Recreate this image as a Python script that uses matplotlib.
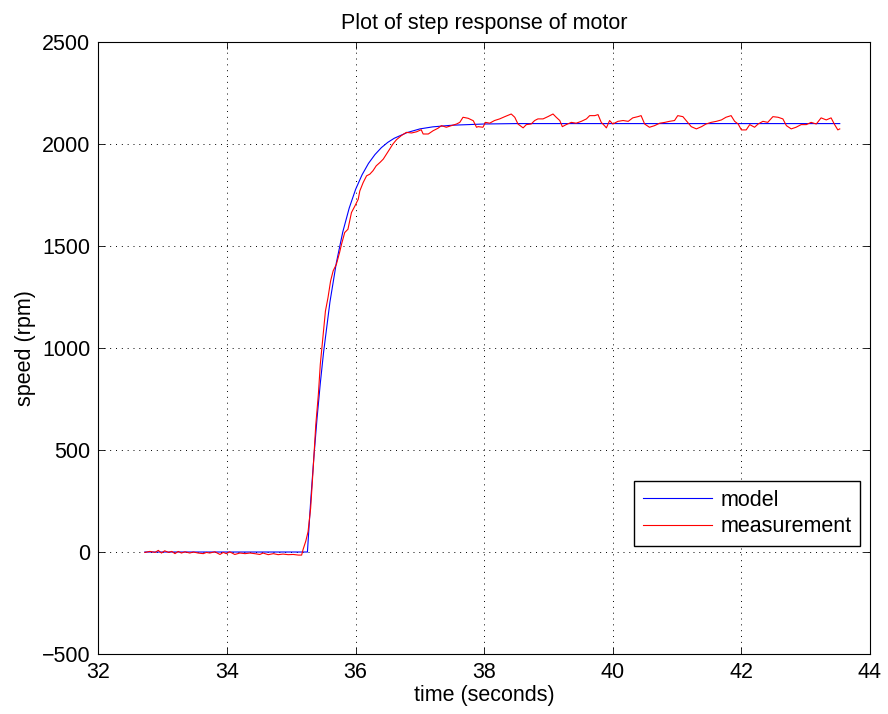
import matplotlib
matplotlib.use("Agg")
import matplotlib.pyplot as plt

plt.rcParams['font.family'] = ['Liberation Sans', 'DejaVu Sans']

# Model (first-order step response)
model_t = [32.72, 35.25, 35.30, 35.35, 35.40, 35.45, 35.50, 35.60, 35.70, 35.80,
           35.90, 36.00, 36.10, 36.20, 36.30, 36.40, 36.50, 36.60, 36.80, 37.00,
           37.20, 37.50, 38.00, 38.50, 43.53]
model_rpm = [0, 0, 247, 464, 657, 826, 976, 1225, 1418, 1569,
             1686, 1778, 1849, 1905, 1948, 1982, 2008, 2028, 2056, 2074,
             2084, 2092, 2098, 2100, 2100]

meas_t = [32.72, 32.80, 32.88, 32.93, 32.98, 33.03, 33.09, 33.14, 33.19, 33.24,
          33.29, 33.345, 33.42, 33.475, 33.55, 33.63, 33.68, 33.73, 33.81, 33.89,
          33.94, 33.99, 34.04, 34.12, 34.20, 34.28, 34.355, 34.43, 34.51, 34.56,
          34.64, 34.72, 34.795, 34.87, 34.95, 35.03, 35.11, 35.16, 35.18, 35.225,
          35.26, 35.30, 35.34, 35.38, 35.42, 35.45, 35.495, 35.53, 35.57, 35.61,
          35.65, 35.70, 35.75, 35.78, 35.83, 35.88, 35.935, 35.99, 36.04, 36.065,
          36.117, 36.17, 36.22, 36.27, 36.32, 36.38, 36.43, 36.48, 36.53, 36.58,
          36.635, 36.71, 36.79, 36.87, 36.95, 37.02, 37.05, 37.13, 37.205, 37.28,
          37.335, 37.41, 37.49, 37.57, 37.62, 37.67, 37.75, 37.83, 37.88, 37.905,
          37.98, 38.02, 38.085, 38.16, 38.24, 38.32, 38.42, 38.475, 38.525, 38.605,
          38.655, 38.73, 38.785, 38.835, 38.915, 38.99, 39.07, 39.12, 39.175, 39.215,
          39.275, 39.355, 39.43, 39.51, 39.59, 39.64, 39.72, 39.77, 39.82, 39.87,
          39.90, 39.95, 40.00, 40.08, 40.16, 40.24, 40.31, 40.39, 40.44, 40.495,
          40.57, 40.65, 40.73, 40.81, 40.88, 40.96, 41.01, 41.09, 41.14, 41.22,
          41.30, 41.38, 41.45, 41.53, 41.61, 41.69, 41.76, 41.84, 41.895, 41.95,
          42.00, 42.075, 42.13, 42.205, 42.26, 42.335, 42.41, 42.49, 42.57, 42.645,
          42.70, 42.775, 42.85, 42.93, 43.01, 43.085, 43.165, 43.24, 43.32, 43.395,
          43.45, 43.50, 43.53]
meas_rpm = [-2, 3, -2, 8, -5, 6, -2, 3, -8, 3,
            -5, 1, -5, 0, -5, -8, -2, -5, 1, -12,
            -2, -8, 1, -12, -5, -8, -5, -8, -12, -5,
            -13, -8, -13, -10, -13, -12, -15, -15, 10, 54,
            100, 215, 411, 624, 772, 919, 1066, 1181, 1247, 1328,
            1378, 1410, 1468, 1508, 1566, 1582, 1664, 1697, 1729, 1770,
            1811, 1844, 1852, 1869, 1893, 1910, 1926, 1951, 1975, 2000,
            2021, 2041, 2057, 2054, 2060, 2070, 2049, 2049, 2065, 2077,
            2090, 2082, 2090, 2098, 2106, 2131, 2126, 2114, 2082, 2085,
            2082, 2106, 2102, 2115, 2123, 2134, 2147, 2131, 2098, 2079,
            2095, 2098, 2115, 2123, 2123, 2134, 2147, 2131, 2115, 2085,
            2095, 2106, 2102, 2111, 2123, 2139, 2139, 2144, 2106, 2090,
            2079, 2115, 2098, 2111, 2115, 2111, 2128, 2134, 2139, 2098,
            2082, 2090, 2102, 2106, 2111, 2115, 2139, 2134, 2115, 2085,
            2074, 2085, 2098, 2106, 2111, 2118, 2131, 2139, 2111, 2098,
            2069, 2069, 2095, 2082, 2098, 2111, 2106, 2134, 2131, 2123,
            2090, 2074, 2082, 2095, 2095, 2106, 2098, 2128, 2118, 2128,
            2095, 2069, 2074]

x_ticks = [32, 34, 36, 38, 40, 42, 44]
y_ticks = [-500, 0, 500, 1000, 1500, 2000, 2500]

FS = 15.5

fig = plt.figure(figsize=(8.88, 7.14), dpi=100)
ax = fig.add_axes([0.1109, 0.0840, 0.9797 - 0.1109, 0.9412 - 0.0840])

ax.plot(model_t, model_rpm, color='#0000ff', lw=0.8, label='model')
ax.plot(meas_t, meas_rpm, color='#ff0000', lw=0.8, label='measurement')

ax.set_xlim(32, 44)
ax.set_ylim(-500, 2500)
ax.set_xticks(x_ticks)
ax.set_yticks(y_ticks)
ax.tick_params(direction='in', length=5, width=0.6, top=True, right=True,
               labelsize=FS, pad=6)
for s in ax.spines.values():
    s.set_linewidth(0.8)
ax.grid(True, color='black', linestyle=(0, (1, 5)), linewidth=0.7)

ax.set_title('Plot of step response of motor', fontsize=FS, pad=9)
ax.set_xlabel('time (seconds)', fontsize=FS, labelpad=1)
ax.set_ylabel('speed (rpm)', fontsize=FS, labelpad=4)

leg = ax.legend(loc='lower right', bbox_to_anchor=(0.987, 0.1765),
                borderaxespad=0, fontsize=FS, fancybox=False, framealpha=1,
                edgecolor='black', handlelength=3.2, handletextpad=0.4,
                labelspacing=0.25, borderpad=0.4)
leg.get_frame().set_linewidth(1.0)

fig.savefig('out.png', dpi=100)
